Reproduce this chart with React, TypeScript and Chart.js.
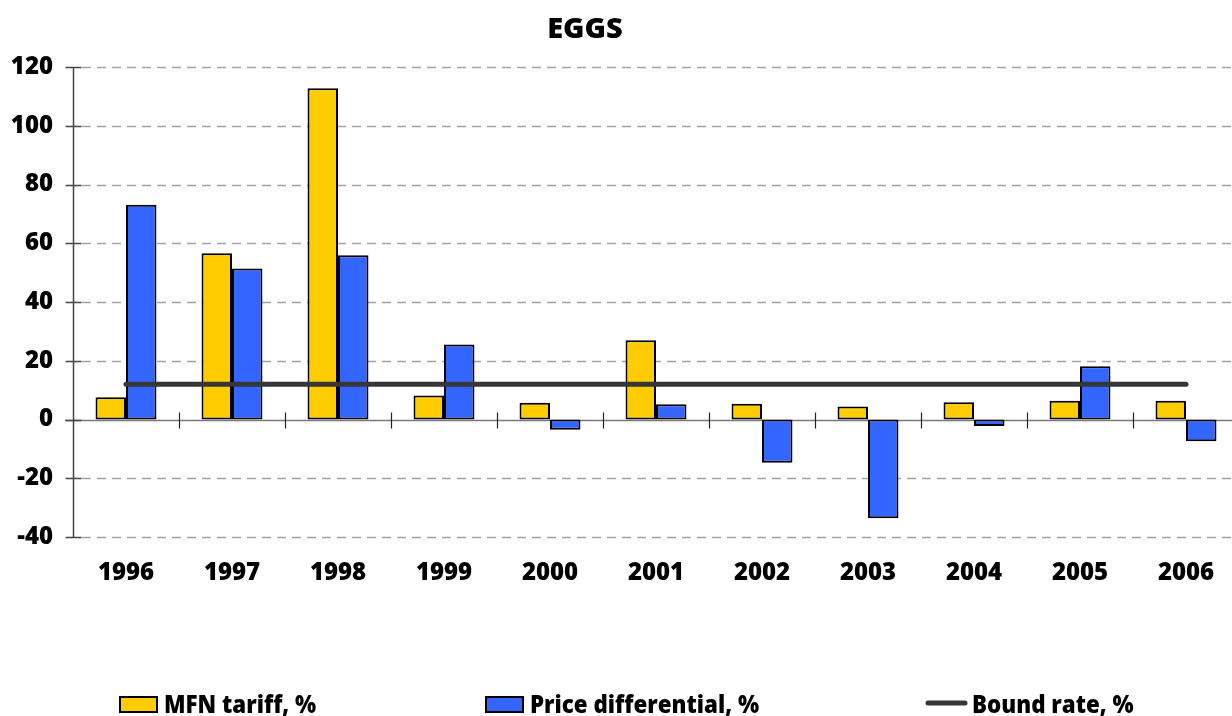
import React, { useEffect, useRef } from "react";
import { Chart, registerables } from "chart.js";

Chart.register(...registerables);

const years = ["1996", "1997", "1998", "1999", "2000", "2001", "2002", "2003", "2004", "2005", "2006"];
const mfnTariff = [7.6, 56.6, 112.8, 8.2, 5.7, 27.0, 5.4, 4.4, 5.9, 6.4, 6.4];
const priceDifferential = [73.1, 51.4, 55.9, 25.5, -3.5, 5.2, -14.7, -33.6, -2.2, 18.1, -7.4];
const boundRate = [12, 12, 12, 12, 12, 12, 12, 12, 12, 12, 12];
const yTicks = [-40, -20, 0, 20, 40, 60, 80, 100, 120];

const TITLE = "EGGS";
const LEGEND_MFN = "MFN tariff, %";
const LEGEND_PRICE = "Price differential, %";
const LEGEND_BOUND = "Bound rate, %";

const YELLOW = "#FFCC00";
const BLUE = "#3366FF";
const LINE = "#363636";
const TICK_FONT = '"Open Sans", "DejaVu Sans", sans-serif';

// Axis frame, dashed grid, zero line and tick marks under the bars
const framePlugin = {
  id: "frame",
  beforeDatasetsDraw(chart: any) {
    const { ctx, chartArea, scales } = chart;
    const y = scales.y;
    const x = scales.x;
    const right = chart.width;
    ctx.save();
    // dashed gridlines
    ctx.strokeStyle = "#a3a3a3";
    ctx.lineWidth = 1.5;
    ctx.setLineDash([9, 6]);
    yTicks.forEach((v) => {
      if (v === 0) return;
      const py = Math.round(y.getPixelForValue(v)) + 0.5;
      ctx.beginPath();
      ctx.moveTo(chartArea.left + 9, py);
      ctx.lineTo(right, py);
      ctx.stroke();
    });
    ctx.setLineDash([]);
    // zero line
    const zy = Math.round(y.getPixelForValue(0)) + 0.5;
    ctx.strokeStyle = "#7a7a7a";
    ctx.lineWidth = 1.5;
    ctx.beginPath();
    ctx.moveTo(chartArea.left - 8, zy);
    ctx.lineTo(right, zy);
    ctx.stroke();
    // y axis line and ticks
    ctx.strokeStyle = "#444";
    ctx.lineWidth = 1.5;
    const ax = Math.round(chartArea.left) + 0.5;
    ctx.beginPath();
    ctx.moveTo(ax, y.getPixelForValue(yTicks[yTicks.length - 1]));
    ctx.lineTo(ax, y.getPixelForValue(yTicks[0]));
    ctx.stroke();
    yTicks.forEach((v) => {
      const py = Math.round(y.getPixelForValue(v)) + 0.5;
      ctx.beginPath();
      ctx.moveTo(ax - 8, py);
      ctx.lineTo(ax + 8, py);
      ctx.stroke();
    });
    // category boundary ticks on the zero line
    ctx.strokeStyle = "#222";
    ctx.lineWidth = 1.2;
    for (let i = 0; i < years.length - 1; i++) {
      const px = Math.round((x.getPixelForValue(i) + x.getPixelForValue(i + 1)) / 2) + 0.5;
      ctx.beginPath();
      ctx.moveTo(px, zy - 8);
      ctx.lineTo(px, zy + 8);
      ctx.stroke();
    }
    ctx.restore();
  },
  afterDraw(chart: any) {
    const { ctx } = chart;
    ctx.save();
    // title
    ctx.fillStyle = "#000";
    ctx.font = `800 29px ${TICK_FONT}`;
    ctx.textAlign = "center";
    ctx.textBaseline = "alphabetic";
    ctx.fillText(TITLE, 585, 38);

    // legend, set in a horizontally condensed bold face
    const drawLabel = (x0: number, label: string) => {
      ctx.save();
      ctx.font = `800 24px ${TICK_FONT}`;
      ctx.textAlign = "left";
      ctx.fillStyle = "#000";
      ctx.translate(x0, 712.5);
      ctx.scale(0.93, 1);
      ctx.fillText(label, 0, 0);
      ctx.restore();
    };
    const drawBox = (x0: number, color: string, label: string) => {
      ctx.fillStyle = color;
      ctx.fillRect(x0, 697, 37, 15);
      ctx.strokeStyle = "#000";
      ctx.lineWidth = 2;
      ctx.strokeRect(x0, 697, 37, 15);
      drawLabel(x0 + 44, label);
    };
    drawBox(120, YELLOW, LEGEND_MFN);
    drawBox(486, BLUE, LEGEND_PRICE);
    ctx.strokeStyle = LINE;
    ctx.lineWidth = 5;
    ctx.lineCap = "round";
    ctx.beginPath();
    ctx.moveTo(928, 703);
    ctx.lineTo(965, 703);
    ctx.stroke();
    drawLabel(972, LEGEND_BOUND);
    ctx.restore();
  },
};

export default function App() {
  const ref = useRef<HTMLCanvasElement | null>(null);

  useEffect(() => {
    const canvas = ref.current;
    if (!canvas) return;
    const chart = new Chart(canvas, {
      type: "bar",
      data: {
        labels: years,
        datasets: [
          {
            type: "line",
            label: LEGEND_BOUND,
            data: boundRate,
            borderColor: LINE,
            borderWidth: 5,
            borderCapStyle: "round",
            pointRadius: 0,
            fill: false,
            order: 0,
          } as any,
          {
            label: LEGEND_MFN,
            data: mfnTariff,
            backgroundColor: YELLOW,
            borderColor: "#000",
            borderWidth: 2,
            borderSkipped: false,
            barPercentage: 1,
            categoryPercentage: 0.575,
            order: 1,
          },
          {
            label: LEGEND_PRICE,
            data: priceDifferential,
            backgroundColor: BLUE,
            borderColor: "#000",
            borderWidth: 2,
            borderSkipped: false,
            barPercentage: 1,
            categoryPercentage: 0.575,
            order: 1,
          },
        ],
      },
      options: {
        responsive: false,
        animation: false,
        layout: { padding: { left: 0, right: 6, top: 67, bottom: 0 } },
        plugins: {
          legend: { display: false },
          title: { display: false },
          tooltip: { enabled: false },
        },
        scales: {
          x: {
            offset: true,
            grid: { display: false, drawTicks: false },
            border: { display: false },
            ticks: {
              color: "#000",
              padding: 22,
              maxRotation: 0,
              font: { family: TICK_FONT, size: 24, weight: "800" },
            },
            afterFit(scale: any) {
              scale.height = 179;
            },
          },
          y: {
            min: -40,
            max: 120,
            grid: { display: false, drawTicks: false },
            border: { display: false },
            afterBuildTicks(scale: any) {
              scale.ticks = yTicks.map((v) => ({ value: v }));
            },
            ticks: {
              color: "#000",
              padding: 20,
              font: { family: TICK_FONT, size: 24, weight: "800" },
            },
            afterFit(scale: any) {
              scale.width = 73;
            },
          },
        },
      },
      plugins: [framePlugin],
    });
    return () => chart.destroy();
  }, []);

  return (
    <div
      style={{
        position: "fixed",
        left: 0,
        top: 0,
        width: 1232,
        height: 716,
        overflow: "hidden",
        background: "#fff",
      }}
    >
      <canvas ref={ref} width={1245} height={716} style={{ width: 1245, height: 716, display: "block" }} />
    </div>
  );
}
